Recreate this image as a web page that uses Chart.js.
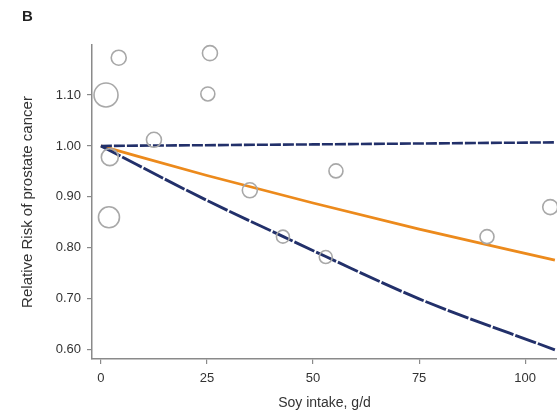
<!DOCTYPE html>
<html>
<head>
<meta charset="utf-8">
<script src="https://cdn.jsdelivr.net/npm/chart.js@4/dist/chart.umd.min.js"></script>
<style>
  html, body { margin: 0; padding: 0; background: #fff; }
  #wrap { position: relative; width: 557px; height: 415px; }
  #label { position: absolute; left: 22px; top: 7px; font: bold 15px "Liberation Sans", Arial, sans-serif; color: #222; }
</style>
</head>
<body>
<div id="wrap">
  <canvas id="chart" width="557" height="415"></canvas>
  <div id="label">B</div>
</div>
<script>
// study points: soy intake (g/d), relative risk, bubble radius (study weight)
const studyX = [1.2, 4.2, 25.7, 25.2, 12.5, 2.1, 1.9, 35.1, 42.9, 53.0, 55.4, 91.0, 105.9];
const studyY = [1.100, 1.173, 1.182, 1.102, 1.012, 0.978, 0.860, 0.913, 0.822, 0.782, 0.951, 0.822, 0.880];
const studyR = [12, 7.5, 7.5, 7, 7.5, 8.5, 10.5, 7.5, 6.5, 6.5, 7, 7, 7.5];

// pooled dose-response curve and its confidence limits
const curveX = [0, 25, 50, 75, 107];
const pooled = [1.000, 0.942, 0.888, 0.837, 0.776];
const upperX = [0, 50, 107];
const upper = [1.000, 1.003, 1.007];
const lowerX = [0, 25, 43, 53, 75, 107];
const lower = [1.000, 0.893, 0.822, 0.783, 0.700, 0.600];

const xTicks = [0, 25, 50, 75, 100];
const yTicks = [0.60, 0.70, 0.80, 0.90, 1.00, 1.10];

const font = "'Liberation Sans', Arial, sans-serif";
const axisGray = '#8a8a8a';

function pts(xs, ys) {
    return xs.map(function (x, i) {
        return {x: x, y: ys[i]};
    });
}

new Chart(document.getElementById('chart').getContext('2d'), {
    data: {
        datasets: [
            {
                type: 'bubble',
                data: studyX.map(function (x, i) {
                    return {x: x, y: studyY[i], r: studyR[i]};
                }),
                backgroundColor: 'rgba(0,0,0,0)',
                borderColor: '#a8a8a8',
                borderWidth: 1.6,
                clip: false
            },
            {
                type: 'line',
                data: pts(upperX, upper),
                borderColor: '#22306a',
                borderWidth: 2.6,
                borderDash: [11, 2],
                pointRadius: 0,
                fill: false
            },
            {
                type: 'line',
                data: pts(lowerX, lower),
                borderColor: '#22306a',
                borderWidth: 2.9,
                borderDash: [22, 2],
                pointRadius: 0,
                cubicInterpolationMode: 'monotone',
                fill: false
            },
            {
                type: 'line',
                data: pts(curveX, pooled),
                borderColor: '#ec8a1c',
                borderWidth: 2.8,
                pointRadius: 0,
                cubicInterpolationMode: 'monotone',
                fill: false
            }
        ]
    },
    options: {
        responsive: false,
        animation: false,
        layout: {autoPadding: false, padding: {left: 15, top: 45, right: 0, bottom: 0}},
        plugins: {legend: {display: false}, tooltip: {enabled: false}},
        scales: {
            x: {
                type: 'linear',
                min: -2.1,
                max: 107.5,
                afterBuildTicks: function (scale) {
                    scale.ticks = xTicks.map(function (v) { return {value: v}; });
                },
                afterFit: function (scale) { scale.height = 56; },
                grid: {drawOnChartArea: false, tickLength: 5, color: axisGray, lineWidth: 1.2},
                border: {color: axisGray, width: 1.5},
                ticks: {font: {family: font, size: 13}, color: '#333', padding: 7},
                title: {display: true, text: 'Soy intake, g/d', font: {family: font, size: 14}, color: '#333', padding: 3}
            },
            y: {
                type: 'linear',
                min: 0.582,
                max: 1.198,
                afterBuildTicks: function (scale) {
                    scale.ticks = yTicks.map(function (v) { return {value: v}; });
                },
                afterFit: function (scale) { scale.width = 77; },
                grid: {drawOnChartArea: false, tickLength: 5, color: axisGray, lineWidth: 1.2},
                border: {color: axisGray, width: 1.5},
                ticks: {
                    font: {family: font, size: 13}, color: '#333', padding: 6,
                    callback: function (v) { return v.toFixed(2); }
                },
                title: {display: true, text: 'Relative Risk of prostate cancer', font: {family: font, size: 15}, color: '#333', padding: 4}
            }
        }
    }
});
</script>
</body>
</html>
